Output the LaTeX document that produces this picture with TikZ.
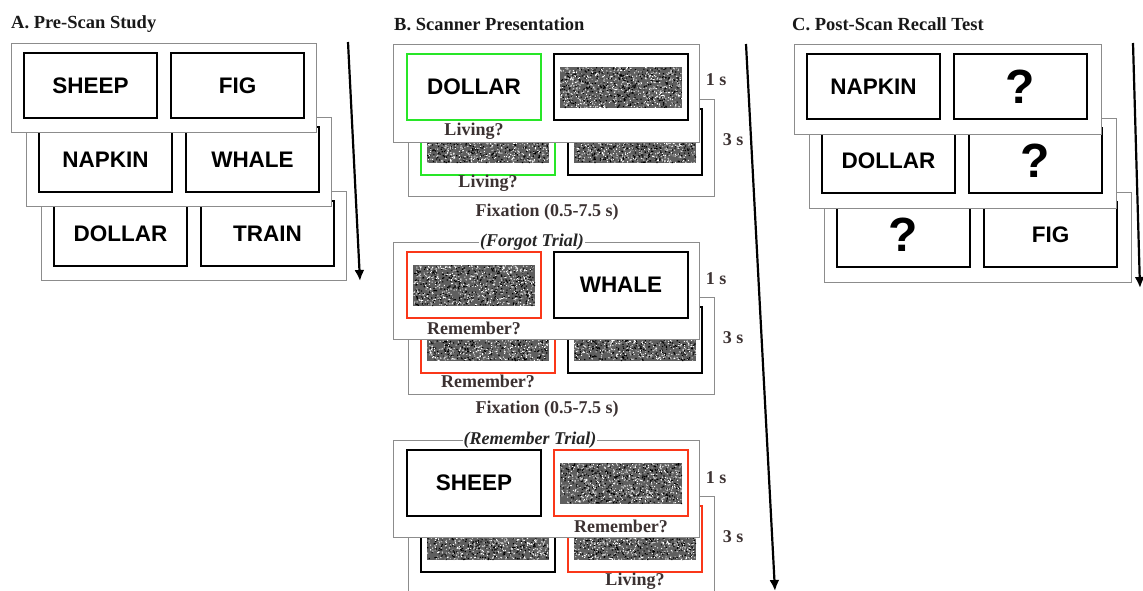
\documentclass[tikz,border=0pt]{standalone}
\usepackage{fontspec}
\setmainfont{Liberation Serif}
\setsansfont{Liberation Sans}
\usepackage{tikz}
\usetikzlibrary{calc,arrows.meta}
\definecolor{cardgray}{RGB}{140,140,140}
\definecolor{livegreen}{RGB}{40,230,40}
\definecolor{memred}{RGB}{250,55,25}
\definecolor{cuebrown}{RGB}{60,50,50}
\definecolor{noisegray}{RGB}{95,95,95}
\newcommand{\noisebox}[1]{%
  \begin{scope}[shift={(#1.north west)}]
    \fill[noisegray] (6,13) rectangle (128,54);
    \fill[black] \foreach \k in {1,...,450}{({6+121*rnd},{13+40*rnd}) rectangle ++(1.2,1.2)};
    \fill[white] \foreach \k in {1,...,480}{({6+121*rnd},{13+40*rnd}) rectangle ++(1,1)};
    \fill[black!30] \foreach \k in {1,...,150}{({6+121*rnd},{13+40*rnd}) rectangle ++(1,1)};
  \end{scope}}
\tikzset{
  card/.style={draw=cardgray,fill=white,line width=0.9pt,anchor=north west,outer sep=0pt},
  wordbox/.style={draw=black,fill=white,line width=2.3pt,anchor=north west,outer sep=0pt,
    minimum width=133pt,minimum height=65pt,inner sep=0pt,
    font=\sffamily\bfseries\fontsize{22.5}{26}\selectfont},
  qmark/.style={font=\sffamily\bfseries\fontsize{48}{50}\selectfont},
  cue/.style={text=cuebrown,font=\bfseries\fontsize{18}{20}\selectfont,inner sep=0pt},
  trialname/.style={fill=white,text=black!85,font=\bfseries\itshape\fontsize{18}{20}\selectfont,inner sep=1pt},
  paneltitle/.style={anchor=west,text=black!90,font=\bfseries\fontsize{18.5}{20}\selectfont,inner sep=0pt},
  timearrow/.style={-{Latex[length=11pt,width=10pt]},line width=2.2pt}
}
\begin{document}
\begin{tikzpicture}[x=1pt,y=-1pt]
\useasboundingbox (0,0) rectangle (1143,590);
\pgfmathsetseed{7}
\node[paneltitle] (titleA) at (11,24) {A. Pre-Scan Study};
\node[paneltitle] (titleB) at (394,24) {B. Scanner Presentation};
\node[paneltitle] (titleC) at (792,24) {C. Post-Scan Recall Test};
\foreach \i/\l/\r in {3/DOLLAR/TRAIN,2/NAPKIN/WHALE,1/SHEEP/FIG}{
  \node[card,minimum width=305pt,minimum height=89pt] (pa\i) at ({11+15*(\i-1)},{43+74*(\i-1)}) {};
  \node[wordbox] (pa\i-l) at ($(pa\i.north west)+(13,10)$) {\l};
  \node[wordbox] (pa\i-r) at ($(pa\i.north west)+(160,10)$) {\r};
}
\coordinate (arA0) at (348,42);
\coordinate (arA1) at (360,281);
\draw[timearrow] (arA0) -- (arA1);
\node[card,minimum width=306pt,minimum height=97pt] (t1b) at (408,99) {};
\node[wordbox,minimum width=134pt,minimum height=66pt,draw=livegreen] (t1bl) at ($(t1b.north west)+(13,10)$) {};
\node[wordbox,minimum width=134pt,minimum height=66pt] (t1br) at ($(t1b.north west)+(160,10)$) {};
\noisebox{t1bl}
\noisebox{t1br}
\node[cue] (t1bq) at ($(t1bl.south)+(0,8)$) {Living?};
\node[card,minimum width=306pt,minimum height=98pt] (t1f) at (393,44) {};
\node[wordbox,minimum width=134pt,minimum height=66pt,draw=livegreen] (t1fl) at ($(t1f.north west)+(14,10)$) {DOLLAR};
\node[wordbox,minimum width=134pt,minimum height=66pt] (t1fr) at ($(t1f.north west)+(161,10)$) {};
\noisebox{t1fr}
\node[cue] (t1fq) at ($(t1fl.south)+(0,11)$) {Living?};
\node[cue] (t1one) at (716,80) {1 s};
\node[cue] (t1three) at (733,140) {3 s};
\node[cue] (t1fix) at (547,212) {Fixation (0.5-7.5 s)};
\node[card,minimum width=306pt,minimum height=97pt] (t2b) at (408,297) {};
\node[wordbox,minimum width=134pt,minimum height=66pt,draw=memred] (t2bl) at ($(t2b.north west)+(13,10)$) {};
\node[wordbox,minimum width=134pt,minimum height=66pt] (t2br) at ($(t2b.north west)+(160,10)$) {};
\noisebox{t2bl}
\noisebox{t2br}
\node[cue] (t2bq) at ($(t2bl.south)+(0,8)$) {Remember?};
\node[card,minimum width=306pt,minimum height=97pt] (t2f) at (393,242) {};
\node[wordbox,minimum width=134pt,minimum height=66pt,draw=memred] (t2fl) at ($(t2f.north west)+(14,10)$) {};
\node[wordbox,minimum width=134pt,minimum height=66pt] (t2fr) at ($(t2f.north west)+(161,10)$) {WHALE};
\noisebox{t2fl}
\node[cue] (t2fq) at ($(t2fl.south)+(0,10)$) {Remember?};
\node[trialname] (t2name) at (532,242) {(Forgot Trial)};
\node[cue] (t2one) at (716,279) {1 s};
\node[cue] (t2three) at (733,338) {3 s};
\node[cue] (t2fix) at (547,409) {Fixation (0.5-7.5 s)};
\node[card,minimum width=306pt,minimum height=97pt] (t3b) at (408,496) {};
\node[wordbox,minimum width=134pt,minimum height=66pt] (t3bl) at ($(t3b.north west)+(13,10)$) {};
\node[wordbox,minimum width=134pt,minimum height=66pt,draw=memred] (t3br) at ($(t3b.north west)+(160,10)$) {};
\noisebox{t3bl}
\noisebox{t3br}
\node[cue] (t3bq) at ($(t3br.south)+(0,9)$) {Living?};
\node[card,minimum width=306pt,minimum height=97pt] (t3f) at (393,440) {};
\node[wordbox,minimum width=134pt,minimum height=66pt] (t3fl) at ($(t3f.north west)+(14,10)$) {SHEEP};
\node[wordbox,minimum width=134pt,minimum height=66pt,draw=memred] (t3fr) at ($(t3f.north west)+(161,10)$) {};
\noisebox{t3fr}
\node[cue] (t3fq) at ($(t3fr.south)+(0,10)$) {Remember?};
\node[trialname] (t3name) at (530,440) {(Remember Trial)};
\node[cue] (t3one) at (716,478) {1 s};
\node[cue] (t3three) at (733,537) {3 s};
\coordinate (arB0) at (746,44);
\coordinate (arB1) at (775,591);
\draw[timearrow] (arB0) -- (arB1);
\foreach \i/\l/\r in {3/?/FIG,2/DOLLAR/?,1/NAPKIN/?}{
  \node[card,minimum width=307pt,minimum height=90pt] (pc\i) at ({794+15*(\i-1)},{44+74*(\i-1)}) {};
  \node[wordbox] (pc\i-l) at ($(pc\i.north west)+(13,10)$) {};
  \node[wordbox] (pc\i-r) at ($(pc\i.north west)+(160,10)$) {};
}
\node (pc1-rt) at (pc1-r) [qmark] {?};
\node (pc1-lt) at (pc1-l) [wordbox,draw=none,fill=none,anchor=center] {NAPKIN};
\node (pc2-rt) at (pc2-r) [qmark] {?};
\node (pc2-lt) at (pc2-l) [wordbox,draw=none,fill=none,anchor=center] {DOLLAR};
\node (pc3-lt) at (pc3-l) [qmark] {?};
\node (pc3-rt) at (pc3-r) [wordbox,draw=none,fill=none,anchor=center] {FIG};
\coordinate (arC0) at (1133,43);
\coordinate (arC1) at (1140,288);
\draw[timearrow] (arC0) -- (arC1);
\end{tikzpicture}
\end{document}
